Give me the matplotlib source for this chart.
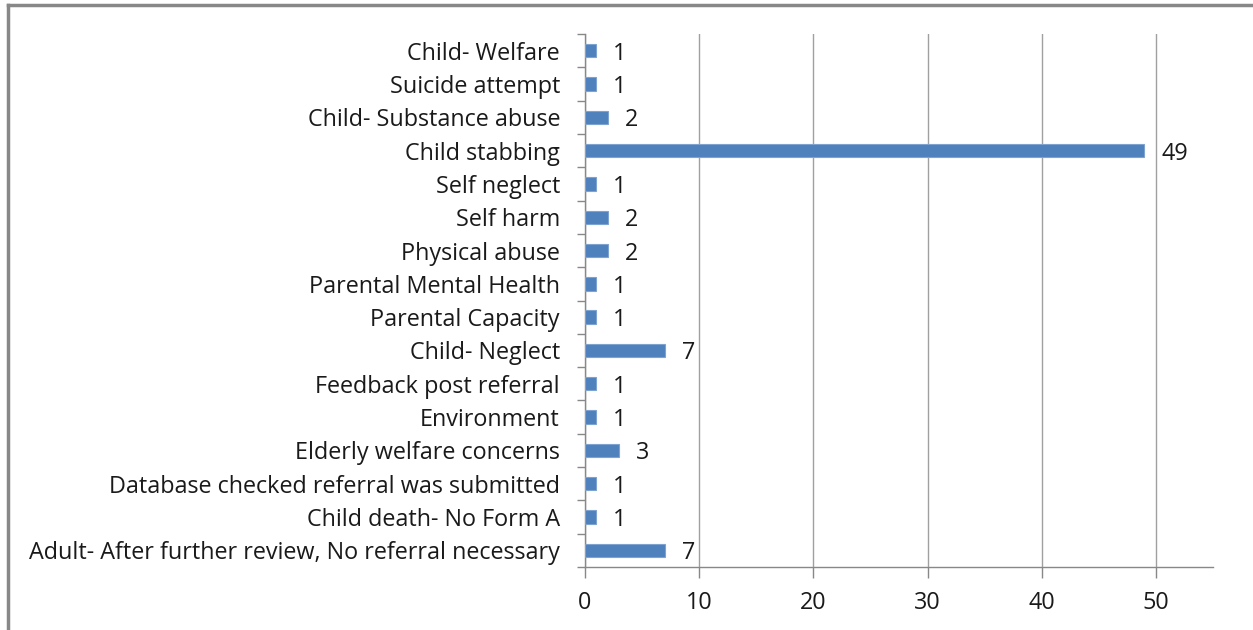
import matplotlib
matplotlib.use("Agg")
import matplotlib.pyplot as plt
from matplotlib.lines import Line2D

categories = [
    "Child- Welfare",
    "Suicide attempt",
    "Child- Substance abuse",
    "Child stabbing",
    "Self neglect",
    "Self harm",
    "Physical abuse",
    "Parental Mental Health",
    "Parental Capacity",
    "Child- Neglect",
    "Feedback post referral",
    "Environment",
    "Elderly welfare concerns",
    "Database checked referral was submitted",
    "Child death- No Form A",
    "Adult- After further review, No referral necessary",
]
counts = [1, 1, 2, 49, 1, 2, 2, 1, 1, 7, 1, 1, 3, 1, 1, 7]
x_ticks = [0, 10, 20, 30, 40, 50]

plt.rcParams["font.family"] = ["Open Sans", "DejaVu Sans"]
FS = 16.8
W, H = 1253, 630
fig = plt.figure(figsize=(W / 100, H / 100), dpi=100)
ax = fig.add_axes([585 / W, 1 - 567 / H, (1213 - 585) / W, (567 - 34) / H])

n = len(categories)
ypos = list(range(n))
ax.barh(ypos, counts, height=0.4, color="#4F81BD", edgecolor="#7FA3D0", linewidth=0.8, zorder=3)
ax.set_ylim(n - 0.5, -0.5)
ax.set_xlim(0, 55)

for y, v in zip(ypos, counts):
    ax.annotate(str(v), (v, y), xytext=(12, 0), textcoords="offset points",
                va="center_baseline", ha="left", fontsize=FS, color="#1a1a1a")

ax.set_yticks(ypos)
ax.set_yticklabels(categories, fontsize=FS, color="#1a1a1a", va="center_baseline")
ax.set_yticks([i - 0.5 for i in range(n + 1)], minor=True)
ax.tick_params(axis="y", which="major", length=0, pad=18)
ax.tick_params(axis="y", which="minor", length=6, color="#888888", width=1)

ax.set_xticks(x_ticks)
ax.set_xticklabels([str(t) for t in x_ticks], fontsize=FS, color="#1a1a1a")
ax.tick_params(axis="x", length=8, color="#888888", width=1, pad=9)
ax.xaxis.grid(True, color="#A0A0A0", linewidth=1, zorder=0)

for side in ["top", "right"]:
    ax.spines[side].set_visible(False)
for side in ["left", "bottom"]:
    ax.spines[side].set_color("#888888")
    ax.spines[side].set_linewidth(1)

# outer frame: top and left edges
fig.add_artist(Line2D([8 / W, 1.0], [1 - 5 / H, 1 - 5 / H], transform=fig.transFigure,
                      color="#888888", linewidth=2.5))
fig.add_artist(Line2D([8 / W, 8 / W], [0, 1 - 5 / H], transform=fig.transFigure,
                      color="#888888", linewidth=2.5))

fig.savefig("out.png", dpi=100, facecolor="white")
